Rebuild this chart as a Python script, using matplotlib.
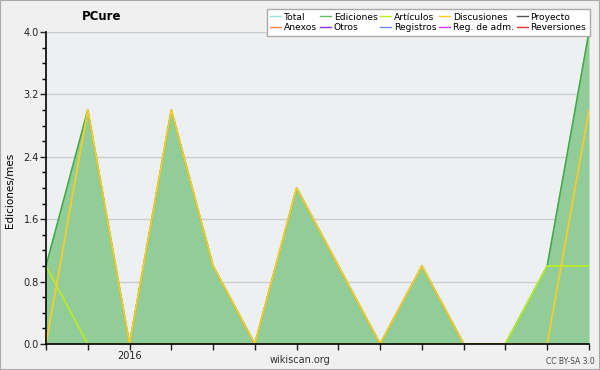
import matplotlib.pyplot as plt
from matplotlib.lines import Line2D
import numpy

# monthly edits, Nov 2015 .. Dec 2016
months = ["2015-11", "2015-12", "2016-01", "2016-02", "2016-03", "2016-04", "2016-05",
          "2016-06", "2016-07", "2016-08", "2016-09", "2016-10", "2016-11", "2016-12"]
total = [1, 3, 0, 3, 1, 0, 2, 1, 0, 1, 0, 0, 1, 4]
ediciones = [1, 3, 0, 3, 1, 0, 2, 1, 0, 1, 0, 0, 1, 4]
articulos = [1, 0, 0, 0, 0, 0, 0, 0, 0, 0, 0, 0, 1, 1]
discusiones = [0, 3, 0, 3, 1, 0, 2, 1, 0, 1, 0, 0, 0, 3]

yticks = [0.0, 0.8, 1.6, 2.4, 3.2, 4.0]
xtick_labels = {"2016-01": "2016"}

legend_names = ["Total", "Ediciones", "Artículos", "Discusiones", "Proyecto",
                "Anexos", "Otros", "Registros", "Reg. de adm.", "Reversiones"]
legend_colors = ["#99e0e0", "#66bb66", "#bbee22", "#ffcc22", "#555555",
                 "#ff8844", "#8833ee", "#7788ff", "#dd33ff", "#ee3333"]

x = numpy.arange(len(months))

fig = plt.figure(figsize=(6, 3.7), dpi=100, facecolor="#f0f0f0")
fig.patches.append(plt.Rectangle((0, 0), 1, 1, transform=fig.transFigure,
                                 fill=False, edgecolor="#aaaaaa", lw=1.5))
ax = fig.add_axes([46/600, 26/370, 543/600, 312/370])
ax.set_facecolor("#eeeff1")

ax.plot(x, total, color="#99e0e0", lw=1)
ax.fill_between(x, 0, ediciones, color="#92cc98", lw=0)
ax.plot(x, ediciones, color="#44aa44", lw=1.2)
ax.plot(x, articulos, color="#bbee22", lw=1.2)
ax.plot(x, discusiones, color="#ffcc22", lw=1.2)

ax.set_xlim(0, len(months) - 1)
ax.set_ylim(0, 4.0)
ax.set_yticks(yticks)
ax.set_yticklabels(["%.1f" % v for v in yticks])
ax.set_yticks(numpy.arange(0, 4.01, 0.2), minor=True)
ax.set_xticks(x)
ax.set_xticklabels([xtick_labels.get(m, "") for m in months])
ax.grid(axis="y", color="#cccccc", lw=1)
ax.set_axisbelow(True)
ax.tick_params(labelsize=7, length=4, width=1, colors="#222222", pad=1)
ax.tick_params(which="minor", length=3, width=1)
for s in ["top", "right"]:
    ax.spines[s].set_visible(False)
for s in ["left", "bottom"]:
    ax.spines[s].set_linewidth(1.2)

fig.text(102/600, 1 - 16/370, "PCure", fontsize=8.5, fontweight="bold", ha="center", va="center")
fig.text(10/600, 1 - 190/370, "Ediciones/mes", fontsize=7.5, rotation=90, ha="center", va="center")
fig.text(300/600, 1 - 360/370, "wikiscan.org", fontsize=7, ha="center", va="center", color="#333333")
fig.text(570/600, 1 - 361/370, "CC BY-SA 3.0", fontsize=5.5, ha="center", va="center", color="#444444")

# legend fills row by row
order = [0, 5, 1, 6, 2, 7, 3, 8, 4, 9]
handles = [Line2D([], [], color=legend_colors[i], lw=1) for i in order]
labels = [legend_names[i] for i in order]
leg = fig.legend(handles, labels, ncol=5, loc="upper right",
                 bbox_to_anchor=(590/600, 1 - 9/370), fontsize=6.6, frameon=True,
                 fancybox=False, handlelength=1.2, handletextpad=0.3, columnspacing=0.3,
                 labelspacing=0.2, borderpad=0.4, borderaxespad=0)
leg.get_frame().set_edgecolor("#aaaaaa")
leg.get_frame().set_facecolor("white")
leg.get_frame().set_alpha(1)

plt.savefig("out.png", dpi=100, facecolor=fig.get_facecolor())
